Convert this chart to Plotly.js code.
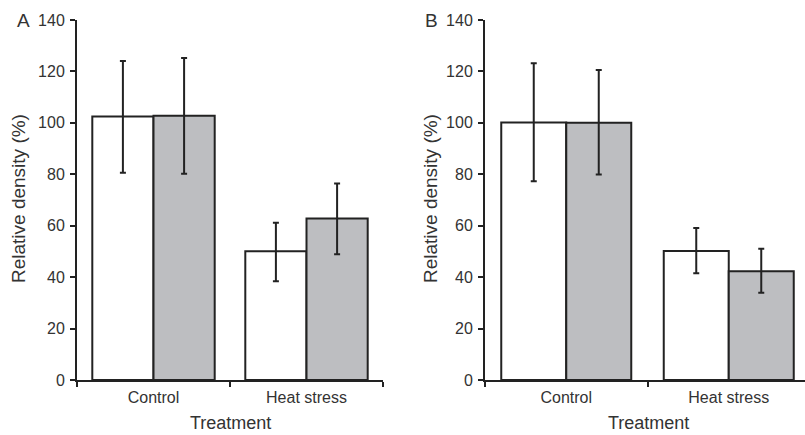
<!DOCTYPE html>
<html><head><meta charset="utf-8">
<script src="https://cdn.plot.ly/plotly-3.0.1.min.js"></script>
<style>html,body{margin:0;padding:0;overflow:hidden;background:#fff}</style>
</head><body><div id="chart"></div>
<script>
const categories = ["Control", "Heat stress"];
// Panel A
const aWhite = [102.5, 50.1];
const aWhiteHi = [124.1, 61.2];
const aWhiteLo = [80.6, 38.4];
const aGray = [102.8, 62.8];
const aGrayHi = [125.2, 76.4];
const aGrayLo = [80.2, 48.9];
// Panel B
const bWhite = [100.1, 50.2];
const bWhiteHi = [123.2, 59.1];
const bWhiteLo = [77.3, 41.5];
const bGray = [100.0, 42.3];
const bGrayHi = [120.6, 51.0];
const bGrayLo = [79.9, 33.9];
const yTicks = [0, 20, 40, 60, 80, 100, 120, 140];

const W = 810, H = 435, T = 20, B = 55;
const PH = H - T - B;
const ink = '#222';
const grayFill = '#bdbec1';

function bar(vals, hi, lo, fill, xa, ya) {
  return {
    type: 'bar', x: categories, y: vals, xaxis: xa, yaxis: ya,
    marker: {color: fill, line: {color: ink, width: 2}},
    error_y: {type: 'data', symmetric: false,
      array: hi.map((h, i) => h - vals[i]),
      arrayminus: lo.map((l, i) => vals[i] - l),
      color: ink, thickness: 2, width: 3},
    showlegend: false, hoverinfo: 'skip'
  };
}

const data = [
  bar(aWhite, aWhiteHi, aWhiteLo, '#ffffff', 'x', 'y'),
  bar(aGray, aGrayHi, aGrayLo, grayFill, 'x', 'y'),
  bar(bWhite, bWhiteHi, bWhiteLo, '#ffffff', 'x2', 'y2'),
  bar(bGray, bGrayHi, bGrayLo, grayFill, 'x2', 'y2')
];

const fam = 'Liberation Sans, Arial, sans-serif';
const font = {family: fam, size: 16, color: '#333'};
function xax(d, anchor) {
  return {domain: d, anchor: anchor, type: 'category', range: [-0.5, 1.5],
    showline: true, linecolor: ink, linewidth: 2, ticks: 'outside', tickson: 'boundaries',
    ticklen: 5, tickwidth: 2, tickcolor: ink, showgrid: false, zeroline: false,
    tickfont: font, ticklabelstandoff: 2, fixedrange: true};
}
function yax(anchor) {
  return {anchor: anchor, domain: [0, 1], range: [0, 140], tickvals: yTicks,
    showline: true, linecolor: ink, linewidth: 2, ticks: 'outside', ticklen: 5,
    tickwidth: 2, tickcolor: ink, showgrid: false, zeroline: false,
    tickfont: font, ticklabelstandoff: 2, fixedrange: true};
}
const px = v => v / W;
const py = v => (H - B - v) / PH;
function ann(text, x, y, size, angle) {
  return {text: text, xref: 'paper', yref: 'paper', x: px(x), y: py(y),
    xanchor: 'center', yanchor: 'middle', showarrow: false, textangle: angle || 0,
    font: {family: fam, size: size, color: '#333'}};
}

const layout = {
  width: W, height: H,
  margin: {l: 0, r: 0, t: T, b: B, pad: 0},
  paper_bgcolor: '#fff', plot_bgcolor: '#fff',
  barmode: 'group', bargap: 0.2, bargroupgap: 0,
  font: font,
  xaxis: xax([px(77), px(383)], 'y'),
  yaxis: yax('x'),
  xaxis2: xax([px(485), 1], 'y2'),
  yaxis2: yax('x2'),
  annotations: [
    ann('A', 23, 21, 19),
    ann('B', 431, 21, 19),
    ann('Relative density (%)', 18, 199, 19, -90),
    ann('Relative density (%)', 430, 199, 19, -90),
    ann('Treatment', 230, 423, 18),
    ann('Treatment', 648, 423, 18)
  ]
};
Plotly.newPlot('chart', data, layout, {displayModeBar: false, staticPlot: true});
</script></body></html>
